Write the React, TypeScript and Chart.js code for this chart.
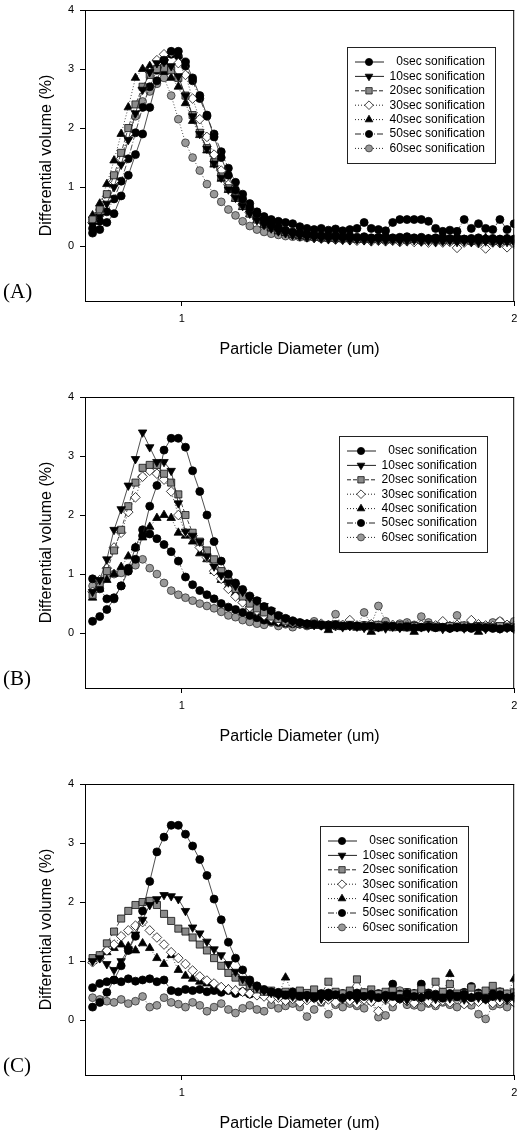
import React, { useEffect, useRef } from "react";
import { Chart, registerables } from "chart.js";

Chart.register(...registerables);

const FONT = "Arial, 'Liberation Sans', Helvetica, sans-serif";

// Particle diameters (um) shared by every series
const DIAMETERS = [
  0.830, 0.8425, 0.8551, 0.8680, 0.8810, 0.8942, 0.9077, 0.9213, 0.9351, 0.9492,
  0.9634, 0.9779, 0.9926, 1.0075, 1.0226, 1.0380, 1.0536, 1.0694, 1.0855, 1.1018,
  1.1183, 1.1351, 1.1521, 1.1695, 1.1870, 1.2048, 1.2229, 1.2413, 1.2599, 1.2789,
  1.2981, 1.3176, 1.3373, 1.3574, 1.3778, 1.3985, 1.4195, 1.4408, 1.4625, 1.4844,
  1.5067, 1.5294, 1.5523, 1.5756, 1.5993, 1.6233, 1.6477, 1.6724, 1.6976, 1.7231,
  1.7489, 1.7752, 1.8019, 1.8289, 1.8564, 1.8843, 1.9126, 1.9413, 1.9704, 2.0000,
];

const SERIES_LABELS = [
  "0sec sonification",
  "10sec sonification",
  "20sec sonification",
  "30sec sonification",
  "40sec sonification",
  "50sec sonification",
  "60sec sonification",
];

const PANEL_LABELS = ["(A)", "(B)", "(C)"];
const X_TICKS = [1, 2];
const Y_TICKS = [0, 1, 2, 3, 4];
const X_MIN = 0.817;
const X_MAX = 2;
const Y_MIN = -0.93;
const Y_MAX = 4;
const X_TITLE = "Particle Diameter (um)";
const Y_TITLE = "Differential volume (%)";

// ---------- Panel A ----------
const A_0S = [
  0.22, 0.28, 0.40, 0.55, 0.85, 1.20, 1.55, 1.90, 2.35, 2.80,
  3.15, 3.30, 3.30, 3.12, 2.85, 2.55, 2.22, 1.85, 1.50, 1.20,
  0.95, 0.80, 0.65, 0.55, 0.45, 0.38, 0.32, 0.27, 0.24, 0.22,
  0.20, 0.19, 0.18, 0.17, 0.18, 0.16, 0.17, 0.15, 0.16, 0.14,
  0.15, 0.16, 0.14, 0.15, 0.16, 0.14, 0.15, 0.13, 0.14, 0.15,
  0.13, 0.14, 0.12, 0.13, 0.14, 0.12, 0.13, 0.12, 0.13, 0.12,
];
const A_10S = [
  0.35, 0.50, 0.72, 1.00, 1.38, 1.80, 2.25, 2.65, 2.95, 3.10,
  3.12, 3.05, 2.88, 2.55, 2.20, 1.90, 1.65, 1.40, 1.16, 0.96,
  0.82, 0.68, 0.55, 0.44, 0.36, 0.30, 0.25, 0.22, 0.19, 0.17,
  0.15, 0.14, 0.13, 0.12, 0.12, 0.11, 0.10, 0.11, 0.10, 0.09,
  0.10, 0.09, 0.10, 0.08, 0.09, 0.10, 0.08, 0.09, 0.07, 0.08,
  0.09, 0.07, 0.08, 0.07, 0.06, 0.08, 0.07, 0.06, 0.07, 0.06,
];
const A_20S = [
  0.45, 0.62, 0.88, 1.20, 1.58, 2.00, 2.40, 2.70, 2.90, 3.00,
  3.02, 2.98, 2.85, 2.55, 2.22, 1.92, 1.66, 1.42, 1.18, 0.98,
  0.82, 0.68, 0.55, 0.45, 0.38, 0.32, 0.27, 0.24, 0.21, 0.19,
  0.17, 0.16, 0.15, 0.14, 0.14, 0.13, 0.14, 0.12, 0.13, 0.12,
  0.13, 0.11, 0.12, 0.13, 0.11, 0.12, 0.10, 0.11, 0.12, 0.10,
  0.11, 0.10, 0.11, 0.09, 0.10, 0.11, 0.09, 0.10, 0.09, 0.10,
];
const A_30S = [
  0.40, 0.56, 0.80, 1.10, 1.48, 1.90, 2.32, 2.68, 2.95, 3.15,
  3.25, 3.28, 3.10, 2.90, 2.50, 2.15, 1.85, 1.55, 1.28, 1.04,
  0.86, 0.70, 0.57, 0.46, 0.38, 0.31, 0.26, 0.22, 0.19, 0.17,
  0.15, 0.14, 0.13, 0.12, 0.11, 0.11, 0.10, 0.09, 0.10, 0.08,
  0.09, 0.08, 0.09, 0.07, 0.08, 0.07, 0.08, 0.06, 0.07, 0.06,
  0.07, -0.03, 0.06, 0.07, 0.05, -0.04, 0.06, 0.05, -0.02, 0.04,
];
const A_40S = [
  0.52, 0.72, 1.05, 1.45, 1.90, 2.35, 2.85, 3.00, 3.05, 3.02,
  2.95, 2.85, 2.70, 2.42, 2.12, 1.88, 1.62, 1.38, 1.14, 0.95,
  0.80, 0.66, 0.54, 0.44, 0.36, 0.30, 0.25, 0.22, 0.19, 0.17,
  0.16, 0.15, 0.14, 0.13, 0.13, 0.12, 0.13, 0.12, 0.11, 0.12,
  0.11, 0.12, 0.10, 0.11, 0.12, 0.10, 0.11, 0.12, 0.10, 0.11,
  0.10, 0.12, 0.10, 0.11, 0.10, 0.14, 0.11, 0.10, 0.12, 0.11,
];
const A_50S = [
  0.30, 0.42, 0.58, 0.80, 1.10, 1.48, 1.92, 2.35, 2.70, 2.98,
  3.15, 3.25, 3.22, 3.05, 2.80, 2.50, 2.20, 1.90, 1.60, 1.32,
  1.08, 0.88, 0.72, 0.58, 0.50, 0.45, 0.42, 0.40, 0.38, 0.33,
  0.30, 0.28, 0.30, 0.27, 0.29, 0.26, 0.28, 0.30, 0.40, 0.30,
  0.28, 0.26, 0.40, 0.45, 0.45, 0.45, 0.45, 0.42, 0.30, 0.25,
  0.27, 0.25, 0.45, 0.30, 0.38, 0.30, 0.28, 0.45, 0.28, 0.38,
];
const A_60S = [
  0.45, 0.62, 0.85, 1.15, 1.50, 1.85, 2.20, 2.45, 2.62, 2.75,
  2.85, 2.55, 2.15, 1.75, 1.50, 1.28, 1.05, 0.88, 0.75, 0.62,
  0.52, 0.42, 0.34, 0.28, 0.24, 0.21, 0.19, 0.17, 0.16, 0.15,
  0.14, 0.15, 0.13, 0.14, 0.12, 0.13, 0.14, 0.12, 0.13, 0.11,
  0.12, 0.13, 0.11, 0.12, 0.10, 0.12, 0.11, 0.10, 0.12, 0.10,
  0.11, 0.10, 0.12, 0.09, 0.11, 0.10, 0.09, 0.11, 0.10, 0.09,
];

// ---------- Panel B ----------
const B_0S = [
  0.20, 0.28, 0.40, 0.58, 0.80, 1.05, 1.25, 1.65, 2.15, 2.50,
  3.10, 3.30, 3.30, 3.15, 2.75, 2.40, 2.00, 1.55, 1.22, 1.00,
  0.85, 0.74, 0.63, 0.55, 0.45, 0.38, 0.30, 0.25, 0.21, 0.18,
  0.16, 0.15, 0.14, 0.13, 0.14, 0.12, 0.13, 0.12, 0.11, 0.12,
  0.10, 0.11, 0.12, 0.10, 0.11, 0.09, 0.10, 0.11, 0.09, 0.10,
  0.08, 0.10, 0.09, 0.08, 0.10, 0.09, 0.08, 0.07, 0.09, 0.08,
];
const B_10S = [
  0.70, 0.90, 1.25, 1.75, 2.10, 2.50, 2.95, 3.40, 3.15, 2.90,
  2.90, 2.75, 2.20, 1.72, 1.65, 1.55, 1.30, 1.13, 0.98, 0.86,
  0.80, 0.70, 0.60, 0.55, 0.46, 0.38, 0.30, 0.25, 0.20, 0.18,
  0.16, 0.14, 0.13, 0.12, 0.13, 0.10, 0.12, 0.11, 0.09, 0.12,
  0.10, 0.08, 0.11, 0.09, 0.12, 0.08, 0.10, 0.09, 0.11, 0.07,
  0.09, 0.10, 0.08, 0.11, 0.09, 0.07, 0.10, 0.08, 0.09, 0.07,
];
const B_20S = [
  0.65, 0.85, 1.05, 1.40, 1.75, 2.15, 2.55, 2.80, 2.85, 2.85,
  2.70, 2.55, 2.35, 2.00, 1.70, 1.55, 1.40, 1.25, 1.05, 0.88,
  0.75, 0.62, 0.50, 0.42, 0.35, 0.28, 0.24, 0.20, 0.18, 0.16,
  0.15, 0.16, 0.14, 0.13, 0.15, 0.12, 0.14, 0.12, 0.13, 0.11,
  0.14, 0.12, 0.10, 0.13, 0.11, 0.12, 0.10, 0.13, 0.11, 0.10,
  0.12, 0.11, 0.13, 0.10, 0.12, 0.11, 0.10, 0.12, 0.11, 0.10,
];
const B_30S = [
  0.70, 0.90, 1.10, 1.45, 1.70, 2.05, 2.30, 2.65, 2.75, 2.70,
  2.60, 2.40, 2.00, 1.70, 1.65, 1.45, 1.28, 1.05, 0.92, 0.75,
  0.62, 0.52, 0.44, 0.38, 0.30, 0.25, 0.21, 0.19, 0.17, 0.16,
  0.15, 0.14, 0.16, 0.13, 0.12, 0.14, 0.22, 0.13, 0.12, 0.15,
  0.13, 0.12, 0.14, 0.11, 0.13, 0.12, 0.14, 0.11, 0.13, 0.20,
  0.12, 0.14, 0.11, 0.22, 0.15, 0.13, 0.12, 0.20, 0.14, 0.12,
];
const B_40S = [
  0.60, 0.75, 0.90, 1.00, 1.12, 1.30, 1.45, 1.62, 1.80, 1.95,
  2.00, 1.95, 1.70, 1.65, 1.55, 1.35, 1.25, 1.05, 0.90, 0.80,
  0.68, 0.55, 0.45, 0.38, 0.32, 0.26, 0.22, 0.19, 0.17, 0.15,
  0.14, 0.12, 0.13, 0.05, 0.12, 0.10, 0.11, 0.09, 0.12, 0.02,
  0.08, 0.11, 0.09, 0.10, 0.08, 0.02, 0.09, 0.10, 0.08, 0.09,
  0.11, 0.08, 0.10, 0.09, 0.02, 0.10, 0.09, 0.08, 0.10, 0.09,
];
const B_50S = [
  0.92, 0.75, 0.58, 0.60, 0.80, 1.10, 1.45, 1.75, 1.68, 1.60,
  1.50, 1.38, 1.22, 0.95, 0.82, 0.72, 0.65, 0.58, 0.50, 0.44,
  0.40, 0.35, 0.30, 0.26, 0.22, 0.20, 0.18, 0.17, 0.16, 0.15,
  0.14, 0.15, 0.13, 0.14, 0.12, 0.13, 0.14, 0.12, 0.13, 0.11,
  0.12, 0.13, 0.11, 0.12, 0.10, 0.12, 0.11, 0.13, 0.10, 0.12,
  0.11, 0.10, 0.12, 0.11, 0.10, 0.12, 0.11, 0.10, 0.11, 0.10,
];
const B_60S = [
  0.80, 0.88, 0.95, 1.00, 1.02, 1.05, 1.15, 1.25, 1.10, 1.00,
  0.85, 0.72, 0.65, 0.60, 0.55, 0.50, 0.46, 0.42, 0.36, 0.30,
  0.27, 0.22, 0.19, 0.16, 0.14, 0.18, 0.12, 0.15, 0.10, 0.16,
  0.12, 0.20, 0.14, 0.10, 0.32, 0.13, 0.15, 0.12, 0.35, 0.15,
  0.46, 0.20, 0.12, 0.16, 0.18, 0.14, 0.28, 0.18, 0.12, 0.15,
  0.10, 0.30, 0.12, 0.16, 0.10, 0.12, 0.18, 0.20, 0.14, 0.20,
];

// ---------- Panel C ----------
const C_0S = [
  0.22, 0.30, 0.47, 0.68, 0.92, 1.18, 1.42, 1.85, 2.35, 2.85,
  3.10, 3.30, 3.30, 3.15, 2.95, 2.72, 2.45, 2.05, 1.70, 1.32,
  1.05, 0.85, 0.68, 0.58, 0.52, 0.48, 0.45, 0.42, 0.44, 0.40,
  0.42, 0.38, 0.45, 0.40, 0.43, 0.38, 0.42, 0.46, 0.40, 0.44,
  0.38, 0.42, 0.40, 0.36, 0.45, 0.40, 0.38, 0.43, 0.40, 0.37,
  0.42, 0.39, 0.44, 0.38, 0.41, 0.36, 0.40, 0.43, 0.38, 0.40,
];
const C_10S = [
  1.00, 1.05, 0.95, 0.85, 1.00, 1.20, 1.45, 1.70, 1.95, 2.05,
  2.12, 2.10, 2.05, 1.85, 1.57, 1.47, 1.33, 1.20, 1.10, 0.95,
  0.82, 0.70, 0.62, 0.55, 0.50, 0.46, 0.42, 0.45, 0.40, 0.43,
  0.38, 0.42, 0.36, 0.40, 0.44, 0.37, 0.41, 0.35, 0.42, 0.38,
  0.40, 0.36, 0.43, 0.39, 0.34, 0.41, 0.38, 0.42, 0.36, 0.40,
  0.37, 0.43, 0.35, 0.40, 0.38, 0.36, 0.41, 0.39, 0.35, 0.38,
];
const C_20S = [
  1.05, 1.10, 1.30, 1.50, 1.72, 1.85, 1.95, 2.00, 2.02, 1.95,
  1.80, 1.68, 1.55, 1.50, 1.40, 1.28, 1.18, 1.05, 0.92, 0.80,
  0.72, 0.65, 0.58, 0.52, 0.48, 0.50, 0.45, 0.48, 0.42, 0.50,
  0.46, 0.52, 0.44, 0.65, 0.48, 0.45, 0.50, 0.69, 0.47, 0.52,
  0.44, 0.48, 0.50, 0.43, 0.47, 0.45, 0.52, 0.44, 0.65, 0.48,
  0.61, 0.45, 0.46, 0.55, 0.44, 0.50, 0.58, 0.48, 0.45, 0.47,
];
const C_30S = [
  0.98, 1.05, 1.18, 1.28, 1.42, 1.52, 1.60, 1.66, 1.52, 1.40,
  1.28, 1.15, 1.05, 0.95, 0.84, 0.74, 0.67, 0.62, 0.56, 0.52,
  0.50, 0.48, 0.45, 0.42, 0.40, 0.36, 0.38, 0.33, 0.36, 0.30,
  0.34, 0.37, 0.32, 0.35, 0.30, 0.36, 0.33, 0.28, 0.35, 0.31,
  0.15, 0.34, 0.30, 0.36, 0.32, 0.29, 0.35, 0.31, 0.28, 0.33,
  0.30, 0.36, 0.27, 0.33, 0.31, 0.35, 0.29, 0.32, 0.34, 0.30,
];
const C_40S = [
  1.00, 1.08, 1.15, 1.22, 1.28, 1.25, 1.18, 1.30, 1.22, 1.05,
  0.95, 1.10, 0.85, 0.75, 0.70, 0.65, 0.62, 0.58, 0.55, 0.52,
  0.50, 0.48, 0.45, 0.46, 0.42, 0.44, 0.42, 0.72, 0.46, 0.42,
  0.38, 0.45, 0.41, 0.40, 0.44, 0.39, 0.42, 0.38, 0.45, 0.41,
  0.40, 0.43, 0.38, 0.42, 0.40, 0.44, 0.39, 0.41, 0.38, 0.43,
  0.78, 0.40, 0.42, 0.38, 0.44, 0.40, 0.41, 0.37, 0.42, 0.70,
];
const C_50S = [
  0.55, 0.62, 0.65, 0.68, 0.65, 0.70, 0.66, 0.68, 0.70, 0.65,
  0.68, 0.50, 0.48, 0.52, 0.50, 0.52, 0.48, 0.50, 0.47, 0.50,
  0.45, 0.48, 0.44, 0.46, 0.48, 0.45, 0.47, 0.44, 0.48, 0.45,
  0.43, 0.47, 0.44, 0.46, 0.42, 0.45, 0.48, 0.44, 0.46, 0.43,
  0.45, 0.43, 0.61, 0.44, 0.47, 0.45, 0.61, 0.46, 0.44, 0.47,
  0.45, 0.43, 0.47, 0.57, 0.46, 0.42, 0.45, 0.48, 0.44, 0.46,
];
const C_60S = [
  0.38, 0.35, 0.32, 0.30, 0.35, 0.28, 0.32, 0.40, 0.22, 0.25,
  0.38, 0.30, 0.27, 0.22, 0.30, 0.25, 0.15, 0.22, 0.28, 0.18,
  0.12, 0.20, 0.25, 0.18, 0.15, 0.26, 0.20, 0.24, 0.28, 0.22,
  0.06, 0.18, 0.30, 0.10, 0.26, 0.22, 0.28, 0.24, 0.20, 0.32,
  0.05, 0.08, 0.22, 0.50, 0.26, 0.25, 0.22, 0.28, 0.24, 0.30,
  0.26, 0.22, 0.28, 0.25, 0.10, 0.02, 0.24, 0.27, 0.22, 0.30,
];

// ---------- styles / layout ----------
type SeriesStyle = {
  shape: string;
  rotation: number;
  radius: number;
  fill: string;
  stroke: string;
  dash: number[];
};

const SERIES_STYLES: SeriesStyle[] = [
  { shape: "circle", rotation: 0, radius: 4.0, fill: "#000", stroke: "#000", dash: [] },
  { shape: "triangle", rotation: 180, radius: 4.9, fill: "#000", stroke: "#000", dash: [] },
  { shape: "rect", rotation: 0, radius: 5.0, fill: "#8a8a8a", stroke: "#111", dash: [4, 2] },
  { shape: "rectRot", rotation: 0, radius: 4.8, fill: "#fff", stroke: "#111", dash: [1, 2] },
  { shape: "triangle", rotation: 0, radius: 4.9, fill: "#000", stroke: "#000", dash: [1, 2] },
  { shape: "circle", rotation: 0, radius: 4.0, fill: "#000", stroke: "#000", dash: [6, 2, 1, 2] },
  { shape: "circle", rotation: 0, radius: 3.9, fill: "#999", stroke: "#333", dash: [1, 2] },
];

const PANEL_SERIES = [
  [A_0S, A_10S, A_20S, A_30S, A_40S, A_50S, A_60S],
  [B_0S, B_10S, B_20S, B_30S, B_40S, B_50S, B_60S],
  [C_0S, C_10S, C_20S, C_30S, C_40S, C_50S, C_60S],
];

const PANEL_LAYOUT = [
  { top: 0, legendTop: 37, legendRight: 19 },
  { top: 387, legendTop: 39, legendRight: 27 },
  { top: 774, legendTop: 42, legendRight: 46 },
];

const CANVAS_W = 520;
const CANVAS_H = 362;

function drawMarker(ctx: CanvasRenderingContext2D, st: SeriesStyle, x: number, y: number) {
  ctx.save();
  ctx.beginPath();
  const r = st.radius * 0.9;
  if (st.shape === "circle") {
    ctx.arc(x, y, r, 0, Math.PI * 2);
  } else if (st.shape === "triangle") {
    const dir = st.rotation === 180 ? -1 : 1;
    ctx.moveTo(x, y - dir * r);
    ctx.lineTo(x + r * 0.866, y + dir * r * 0.5);
    ctx.lineTo(x - r * 0.866, y + dir * r * 0.5);
    ctx.closePath();
  } else if (st.shape === "rect") {
    const s = r * Math.SQRT1_2;
    ctx.rect(x - s, y - s, 2 * s, 2 * s);
  } else {
    ctx.moveTo(x, y - r);
    ctx.lineTo(x + r, y);
    ctx.lineTo(x, y + r);
    ctx.lineTo(x - r, y);
    ctx.closePath();
  }
  ctx.fillStyle = st.fill;
  ctx.fill();
  ctx.lineWidth = 0.8;
  ctx.strokeStyle = st.stroke;
  ctx.stroke();
  ctx.restore();
}

const framePlugin = {
  id: "panelFrame",
  afterDraw(chart: any, _args: any, opts: any) {
    const { ctx, chartArea: a } = chart;
    ctx.save();
    ctx.strokeStyle = "#000";
    ctx.lineWidth = 1;
    ctx.beginPath();
    ctx.moveTo(a.left, a.top + 0.5);
    ctx.lineTo(a.right, a.top + 0.5);
    ctx.moveTo(a.right - 0.5, a.top);
    ctx.lineTo(a.right - 0.5, a.bottom);
    ctx.stroke();

    const w = 148;
    const h = 116;
    const bx = Math.round(a.right - opts.right - w);
    const by = Math.round(a.top + opts.top);
    ctx.fillStyle = "#fff";
    ctx.fillRect(bx, by, w, h);
    ctx.strokeStyle = "#222";
    ctx.lineWidth = 1;
    ctx.strokeRect(bx + 0.5, by + 0.5, w, h);
    ctx.font = `12px ${FONT}`;
    ctx.textAlign = "right";
    ctx.textBaseline = "middle";
    SERIES_LABELS.forEach((lab, i) => {
      const y = by + 15 + i * 14.4;
      const st = SERIES_STYLES[i];
      ctx.save();
      ctx.setLineDash(st.dash);
      ctx.strokeStyle = "#222";
      ctx.lineWidth = 1;
      ctx.beginPath();
      ctx.moveTo(bx + 8, y);
      ctx.lineTo(bx + 37, y);
      ctx.stroke();
      ctx.restore();
      drawMarker(ctx, st, bx + 22, y);
      ctx.fillStyle = "#000";
      ctx.fillText(lab, bx + w - 10, y);
    });
    ctx.restore();
  },
};

function Panel({ index }: { index: number }) {
  const ref = useRef<HTMLCanvasElement | null>(null);
  const layout = PANEL_LAYOUT[index];

  useEffect(() => {
    if (!ref.current) return;
    const series = PANEL_SERIES[index];
    const chart = new Chart(ref.current, {
      type: "line",
      data: {
        datasets: series.map((vals, i) => {
          const st = SERIES_STYLES[i];
          return {
            label: SERIES_LABELS[i],
            data: DIAMETERS.map((d, k) => ({ x: d, y: vals[k] })),
            showLine: true,
            borderColor: "#222",
            borderWidth: 0.8,
            borderDash: st.dash,
            pointStyle: st.shape as any,
            rotation: st.rotation,
            pointRadius: st.radius,
            pointBackgroundColor: st.fill,
            pointBorderColor: st.stroke,
            pointBorderWidth: 0.8,
            tension: 0,
          };
        }),
      },
      options: {
        responsive: false,
        animation: false,
        events: [],
        layout: { padding: { top: 10, right: 2, left: 0, bottom: 0 } },
        plugins: {
          legend: { display: false },
          tooltip: { enabled: false },
          panelFrame: { top: layout.legendTop, right: layout.legendRight },
        } as any,
        scales: {
          x: {
            type: "logarithmic",
            min: X_MIN,
            max: X_MAX,
            afterBuildTicks: (s: any) => {
              s.ticks = X_TICKS.map((v) => ({ value: v }));
            },
            afterFit: (s: any) => {
              s.height = CANVAS_H - 10 - 291;
              s.paddingLeft = 0;
              s.paddingRight = 0;
            },
            ticks: {
              callback: (v: any) => String(v),
              font: { size: 11, family: FONT },
              color: "#000",
              padding: 6,
              maxRotation: 0,
              autoSkip: false,
            },
            grid: {
              display: true,
              drawOnChartArea: false,
              drawTicks: true,
              tickLength: 5,
              color: "#000",
            },
            border: { display: true, color: "#000", width: 1 },
            title: {
              display: true,
              text: X_TITLE,
              font: { size: 16, family: FONT },
              color: "#000",
              padding: { top: 0, bottom: 3 },
            },
          },
          y: {
            type: "linear",
            min: Y_MIN,
            max: Y_MAX,
            afterBuildTicks: (s: any) => {
              s.ticks = Y_TICKS.map((v) => ({ value: v }));
            },
            afterFit: (s: any) => {
              s.width = 85;
              s.paddingTop = 0;
              s.paddingBottom = 0;
            },
            ticks: {
              font: { size: 11, family: FONT },
              color: "#000",
              padding: 6,
            },
            grid: {
              display: true,
              drawOnChartArea: false,
              drawTicks: true,
              tickLength: 5,
              color: "#000",
            },
            border: { display: true, color: "#000", width: 1 },
            title: {
              display: true,
              text: Y_TITLE,
              font: { size: 16, family: FONT },
              color: "#000",
              padding: { top: 37, bottom: 0 },
            },
          },
        },
      } as any,
      plugins: [framePlugin as any],
    });
    return () => chart.destroy();
  }, [index]);

  return (
    <div
      style={{
        position: "absolute",
        left: 0,
        top: layout.top,
        width: CANVAS_W,
        height: CANVAS_H,
      }}
    >
      <canvas ref={ref} width={CANVAS_W} height={CANVAS_H} style={{ display: "block" }} />
      <div
        style={{
          position: "absolute",
          left: 3,
          top: 279,
          font: "21px 'Times New Roman', 'Liberation Serif', serif",
          color: "#000",
          lineHeight: "24px",
        }}
      >
        {PANEL_LABELS[index]}
      </div>
    </div>
  );
}

export default function App() {
  return (
    <div
      style={{
        position: "absolute",
        left: 0,
        top: 0,
        width: 520,
        height: 1130,
        background: "#fff",
        overflow: "hidden",
      }}
    >
      <Panel index={0} />
      <Panel index={1} />
      <Panel index={2} />
    </div>
  );
}
